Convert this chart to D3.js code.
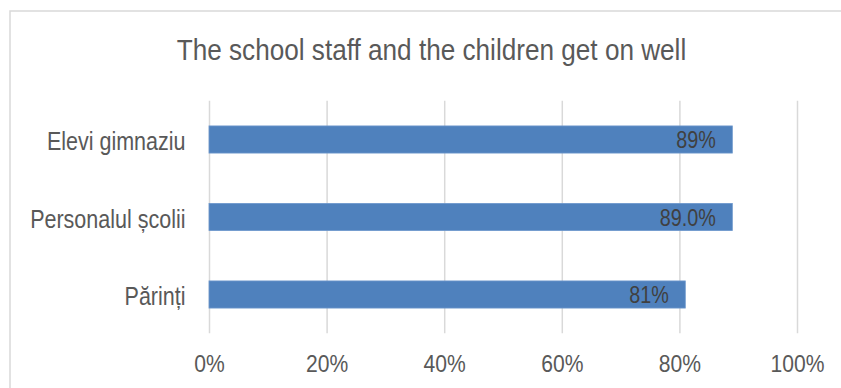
<!DOCTYPE html>
<html>
<head>
<meta charset="utf-8">
<script src="https://cdn.jsdelivr.net/npm/d3@7"></script>
<style>
  html, body { margin: 0; padding: 0; background: #fff; }
  svg { display: block; }
  text { font-family: "Liberation Sans", Arial, sans-serif; }
</style>
</head>
<body>
<svg id="chart" width="841" height="388"></svg>
<script>
const title = "The school staff and the children get on well";
const categories = ["Elevi gimnaziu", "Personalul școlii", "Părinți"];
const values = [0.89, 0.89, 0.81];
const valueLabels = ["89%", "89.0%", "81%"];
const tickValues = [0, 0.2, 0.4, 0.6, 0.8, 1.0];
const tickLabels = ["0%", "20%", "40%", "60%", "80%", "100%"];

const svg = d3.select("#chart");
const W = 841, H = 388;
const plot = { left: 209, right: 797, top: 100.75, bottom: 333.25 };
const NARROW = 0.86; // emulate a condensed face

function condense(sel) {
  sel.each(function () {
    const w = this.getComputedTextLength();
    d3.select(this).attr("textLength", w * NARROW).attr("lengthAdjust", "spacingAndGlyphs");
  });
}

svg.append("rect").attr("width", W).attr("height", H).attr("fill", "#fff");
// chart border (extends off the bottom/right)
svg.append("rect")
  .attr("x", 10).attr("y", 11)
  .attr("width", W + 20).attr("height", H + 20)
  .attr("fill", "none").attr("stroke", "#d9d9d9").attr("stroke-width", 1.5);

svg.append("text")
  .attr("x", 431.5).attr("y", 60.3)
  .attr("text-anchor", "middle")
  .attr("font-size", 30.4)
  .attr("fill", "#595959")
  .text(title)
  .call(condense);

const x = d3.scaleLinear().domain([0, 1]).range([plot.left, plot.right]);
const y = d3.scaleBand().domain(categories).range([plot.top, plot.bottom]).paddingInner(0.65).paddingOuter(0.325);

// gridlines via axis
const grid = svg.append("g").attr("transform", `translate(0,${plot.bottom})`)
  .call(d3.axisBottom(x).tickValues(tickValues).tickSize(-(plot.bottom - plot.top)).tickFormat(""));
grid.select(".domain").remove();
grid.selectAll("line").attr("stroke", "#d9d9d9").attr("stroke-width", 1.5);

// x tick labels
const xa = svg.append("g").attr("transform", `translate(0,${plot.bottom})`)
  .call(d3.axisBottom(x).tickValues(tickValues).tickSize(0).tickFormat((d, i) => tickLabels[i]));
xa.select(".domain").remove();
xa.selectAll("text")
  .attr("font-family", "'Liberation Sans', Arial, sans-serif")
  .attr("font-size", 24.5).attr("fill", "#595959")
  .attr("dy", null).attr("y", 38.4)
  .call(condense);

// y labels
const ya = svg.append("g").attr("transform", `translate(${plot.left},0)`)
  .call(d3.axisLeft(y).tickSize(0).tickPadding(23.5));
ya.select(".domain").remove();
ya.selectAll("text")
  .attr("font-family", "'Liberation Sans', Arial, sans-serif")
  .attr("font-size", 25).attr("fill", "#595959")
  .attr("dy", null).attr("y", 10.5)
  .call(condense);

// bars
svg.append("g").selectAll("rect").data(categories).join("rect")
  .attr("x", x(0))
  .attr("y", d => y(d))
  .attr("width", (d, i) => x(values[i]) - x(0))
  .attr("height", y.bandwidth())
  .attr("fill", "#4f81bd")
  .attr("stroke", "#6d97cc").attr("stroke-width", 0.8);

// value labels
svg.append("g").selectAll("text").data(categories).join("text")
  .attr("x", (d, i) => x(values[i]) - 16.5)
  .attr("y", d => y(d) + y.bandwidth() / 2 + 8.7)
  .attr("text-anchor", "end")
  .attr("font-size", 23)
  .attr("fill", "#404040")
  .text((d, i) => valueLabels[i])
  .call(condense);
</script>
</body>
</html>
